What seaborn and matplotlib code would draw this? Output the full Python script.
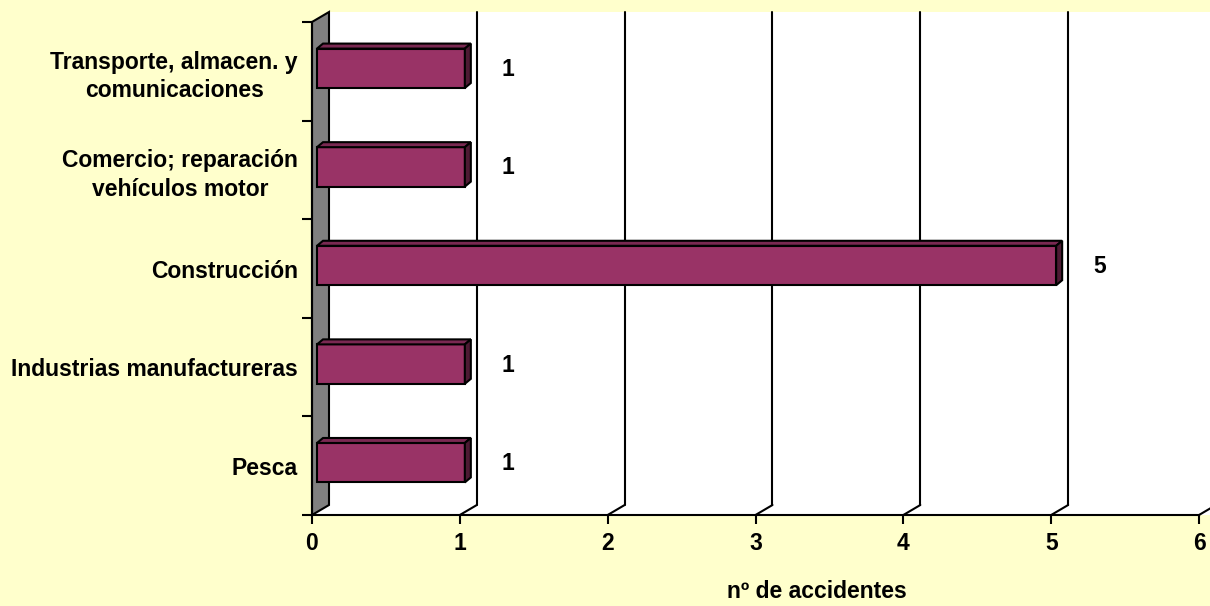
import numpy as np
import pandas as pd
import matplotlib
matplotlib.use("Agg")
import matplotlib.pyplot as plt
from matplotlib.patches import Polygon
import seaborn as sns

# data
categories = ["Transporte, almacen. y\ncomunicaciones",
              "Comercio; reparación\nvehículos motor",
              "Construcción",
              "Industrias manufactureras",
              "Pesca"]
accidents = [1, 1, 5, 1, 1]
x_ticks = [0, 1, 2, 3, 4, 5, 6]
x_label = "nº de accidentes"

df = pd.DataFrame({"sector": categories, "n": accidents})

sns.set_style("white")
plt.rcParams["font.family"] = ["Liberation Sans", "DejaVu Sans"]
plt.rcParams["font.weight"] = "bold"
plt.rcParams["text.color"] = "black"
plt.rcParams["xtick.color"] = "black"
plt.rcParams["ytick.color"] = "black"
plt.rcParams["axes.labelcolor"] = "black"

W, H = 1210, 606
fig = plt.figure(figsize=(W / 100, H / 100), dpi=100, facecolor="#FFFFCC")
ax = fig.add_axes([312 / W, 1 - 515 / H, 887 / W, 493 / H])
ax.set_facecolor("none")

sns.barplot(data=df, x="n", y="sector", orient="h", color="#993366",
            width=0.4, edgecolor="black", linewidth=1.5, saturation=1,
            ax=ax, zorder=3)

ax.set_xlim(0, 6)
ax.set_ylim(4.5, -0.5)

# pixel -> data units
ux = 6 / 887
uy = 5 / 493
wall_dx, wall_dy = 17, 10   # depth of the chart (px)
bar_dx, bar_dy = 5, 3       # bar offset from front plane
dep_dx, dep_dy = 6, 5       # bar depth

def back(x, y, dx=wall_dx, dy=wall_dy):
    return (x + dx * ux, y - dy * uy)

y_top, y_bot = -0.5, 4.5

# white back wall + floor
ax.add_patch(Polygon([back(0, y_bot), back(6.2, y_bot), back(6.2, y_top), back(0, y_top)],
                     closed=True, facecolor="white", edgecolor="none", zorder=0, clip_on=False))
ax.add_patch(Polygon([(0, y_bot), (6.2, y_bot), back(6.2, y_bot), back(0, y_bot)],
                     closed=True, facecolor="white", edgecolor="none", zorder=0, clip_on=False))

# gray side wall
ax.add_patch(Polygon([(0, y_top), (0, y_bot), back(0, y_bot), back(0, y_top)],
                     closed=True, facecolor="#808080", edgecolor="black", linewidth=1.5,
                     zorder=1, clip_on=False))

# gridlines on the back wall and floor
for t in x_ticks[1:]:
    bx0, by0 = back(t, y_bot)
    bx1, by1 = back(t, y_top)
    ax.plot([bx0, bx1], [by0, by1], color="black", lw=1.5, zorder=1, clip_on=False)
    ax.plot([t, bx0], [y_bot, by0], color="black", lw=1.5, zorder=1, clip_on=False)

# 3D bar faces
for p in ax.patches:
    if not isinstance(p, matplotlib.patches.Rectangle):
        continue
    x0, y0 = p.get_x(), p.get_y()
    w, h = p.get_width(), p.get_height()
    x0 = x0 + bar_dx * ux
    y0 = y0 - bar_dy * uy
    p.set_x(x0)
    p.set_y(y0)
    ddx, ddy = dep_dx * ux, dep_dy * uy
    top = [(x0, y0), (x0 + w, y0), (x0 + w + ddx, y0 - ddy), (x0 + ddx, y0 - ddy)]
    side = [(x0 + w, y0), (x0 + w, y0 + h), (x0 + w + ddx, y0 + h - ddy), (x0 + w + ddx, y0 - ddy)]
    ax.add_patch(Polygon(top, closed=True, facecolor="#7a2952", edgecolor="black",
                         linewidth=1.5, zorder=3, clip_on=False))
    ax.add_patch(Polygon(side, closed=True, facecolor="#4d1a33", edgecolor="black",
                         linewidth=1.5, zorder=3, clip_on=False))

# value labels
for i, v in enumerate(accidents):
    ax.annotate(str(v), xy=(v, i), xytext=(48, 2), textcoords="offset pixels",
                ha="center", va="center", fontsize=16.5, fontweight="bold", color="black")

# axes styling
for s in ["top", "right"]:
    ax.spines[s].set_visible(False)
for s in ["left", "bottom"]:
    ax.spines[s].set_visible(True)
    ax.spines[s].set_color("black")
    ax.spines[s].set_linewidth(1.5)
    ax.spines[s].set_zorder(4)

ax.set_xticks(x_ticks)
ax.set_xticklabels([str(t) for t in x_ticks], fontsize=16.5, fontweight="bold")
ax.tick_params(axis="x", bottom=True, direction="out", length=6.5, width=1.5, pad=6,
               colors="black")

ax.set_yticks(range(len(categories)))
ax.set_yticklabels(categories, fontsize=16.5, fontweight="bold", multialignment="center",
                   linespacing=1.3)
ax.set_yticks(np.arange(-0.5, len(categories), 1.0), minor=True)
ax.tick_params(axis="y", which="major", left=False, length=0, pad=10)
ax.tick_params(axis="y", which="minor", left=True, direction="out", length=7, width=1.5,
               color="black")

ax.set_ylabel("")
ax.set_xlabel(x_label, fontsize=16.5, fontweight="bold")
ax.xaxis.set_label_coords(0.569, (14 - 91) / 493)
ax.xaxis.label.set_va("center")

fig.savefig("out.png", dpi=100, facecolor=fig.get_facecolor())
